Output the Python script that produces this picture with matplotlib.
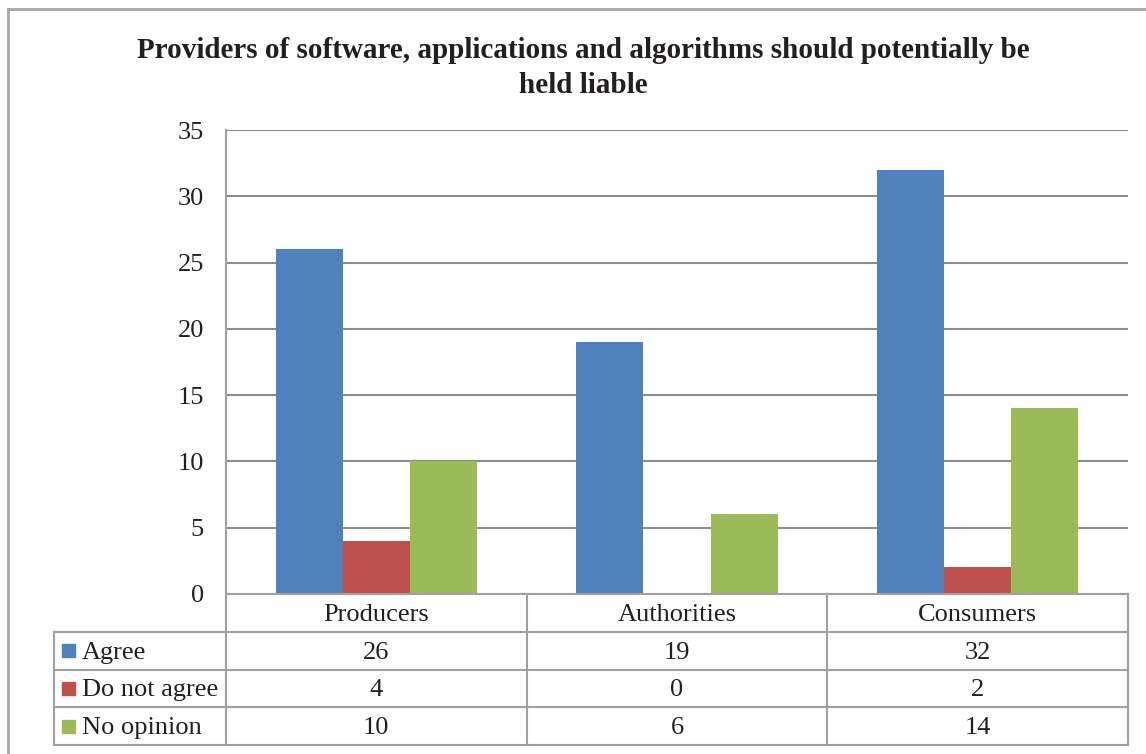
import numpy as np
import matplotlib.pyplot as plt
from matplotlib.lines import Line2D
from matplotlib.patches import Rectangle

# Data
categories = ['Producers', 'Authorities', 'Consumers']
series_names = ['Agree', 'Do not agree', 'No opinion']
agree = [26, 19, 32]
not_agree = [4, 0, 2]
no_opinion = [10, 6, 14]
colors = ['#4F81BD', '#C0504D', '#9BBB59']

plt.rcParams['font.family'] = ['Liberation Serif', 'DejaVu Serif']
text_color = '#231f20'
line_color = '#a0a0a0'
W, H = 1146, 754
fs = 19

fig = plt.figure(figsize=(W / 100, H / 100), dpi=100)

def fx(px):
    return px / W

def fy(py):
    return 1 - py / H

# Plot area
left, right, top, bottom = 226, 1128, 130, 594
ax = fig.add_axes([fx(left), fy(bottom), fx(right - left), fy(top) - fy(bottom)])

x = np.arange(len(categories))
bw = 0.223
all_series = [agree, not_agree, no_opinion]
for i, vals in enumerate(all_series):
    ax.bar(x + (i - 1) * bw, vals, width=bw, color=colors[i], zorder=3)

ax.set_xlim(-0.5, 2.5)
ax.set_ylim(0, 35)
ax.set_yticks(np.arange(0, 36, 5))
ax.set_xticks([])
ax.yaxis.grid(True, color='#8c8c8c', linewidth=1.5, zorder=0)
ax.tick_params(axis='y', length=0, pad=16, labelsize=fs, labelcolor=text_color)
for s in ['top', 'right', 'bottom']:
    ax.spines[s].set_visible(False)
ax.spines['left'].set_color(line_color)
ax.spines['left'].set_linewidth(1.5)

# Title
fig.text(fx(583), fy(68), 'Providers of software, applications and algorithms should potentially be\nheld liable',
         ha='center', va='center', fontsize=21, fontweight='bold', color=text_color, linespacing=1.4)

# Data table
t_left = 54
tax = fig.add_axes([fx(t_left), fy(745), fx(right - t_left), fy(594) - fy(745)])
x_left = -0.5 - (left - t_left) / ((right - left) / 3)
tax.set_xlim(x_left, 2.5)
tax.set_ylim(4, 0)
tax.axis('off')

lk = dict(color=line_color, linewidth=1.5, clip_on=False)
# vertical lines
for xv in [-0.5, 0.5, 1.5, 2.5]:
    tax.plot([xv, xv], [0, 4], **lk)
tax.plot([x_left, x_left], [1, 4], **lk)
# horizontal lines
tax.plot([-0.5, 2.5], [0, 0], **lk)
for yv in [1, 2, 3, 4]:
    tax.plot([x_left, 2.5], [yv, yv], **lk)

dy = 0.05
for j, cat in enumerate(categories):
    tax.text(j, 0.5 + dy, cat, ha='center', va='center', fontsize=fs, color=text_color)

px_unit = (right - left) / 3
for i, (name, vals) in enumerate(zip(series_names, all_series)):
    row = i + 1.5
    sq = 13 / px_unit
    tax.add_patch(Rectangle((x_left + 8 / px_unit, row - 0.17), sq, 0.34,
                            color=colors[i], clip_on=False))
    tax.text(x_left + 28 / px_unit, row + dy, name, ha='left', va='center',
             fontsize=fs, color=text_color)
    for j, v in enumerate(vals):
        tax.text(j, row + dy, str(v), ha='center', va='center', fontsize=fs, color=text_color)

# Outer chart border
fig.add_artist(Line2D([fx(8), fx(8)], [fy(9), 0], color='#a6a6a6', linewidth=2))
fig.add_artist(Line2D([fx(8), 1], [fy(9), fy(9)], color='#a6a6a6', linewidth=2))

fig.savefig('out.png', dpi=100)
